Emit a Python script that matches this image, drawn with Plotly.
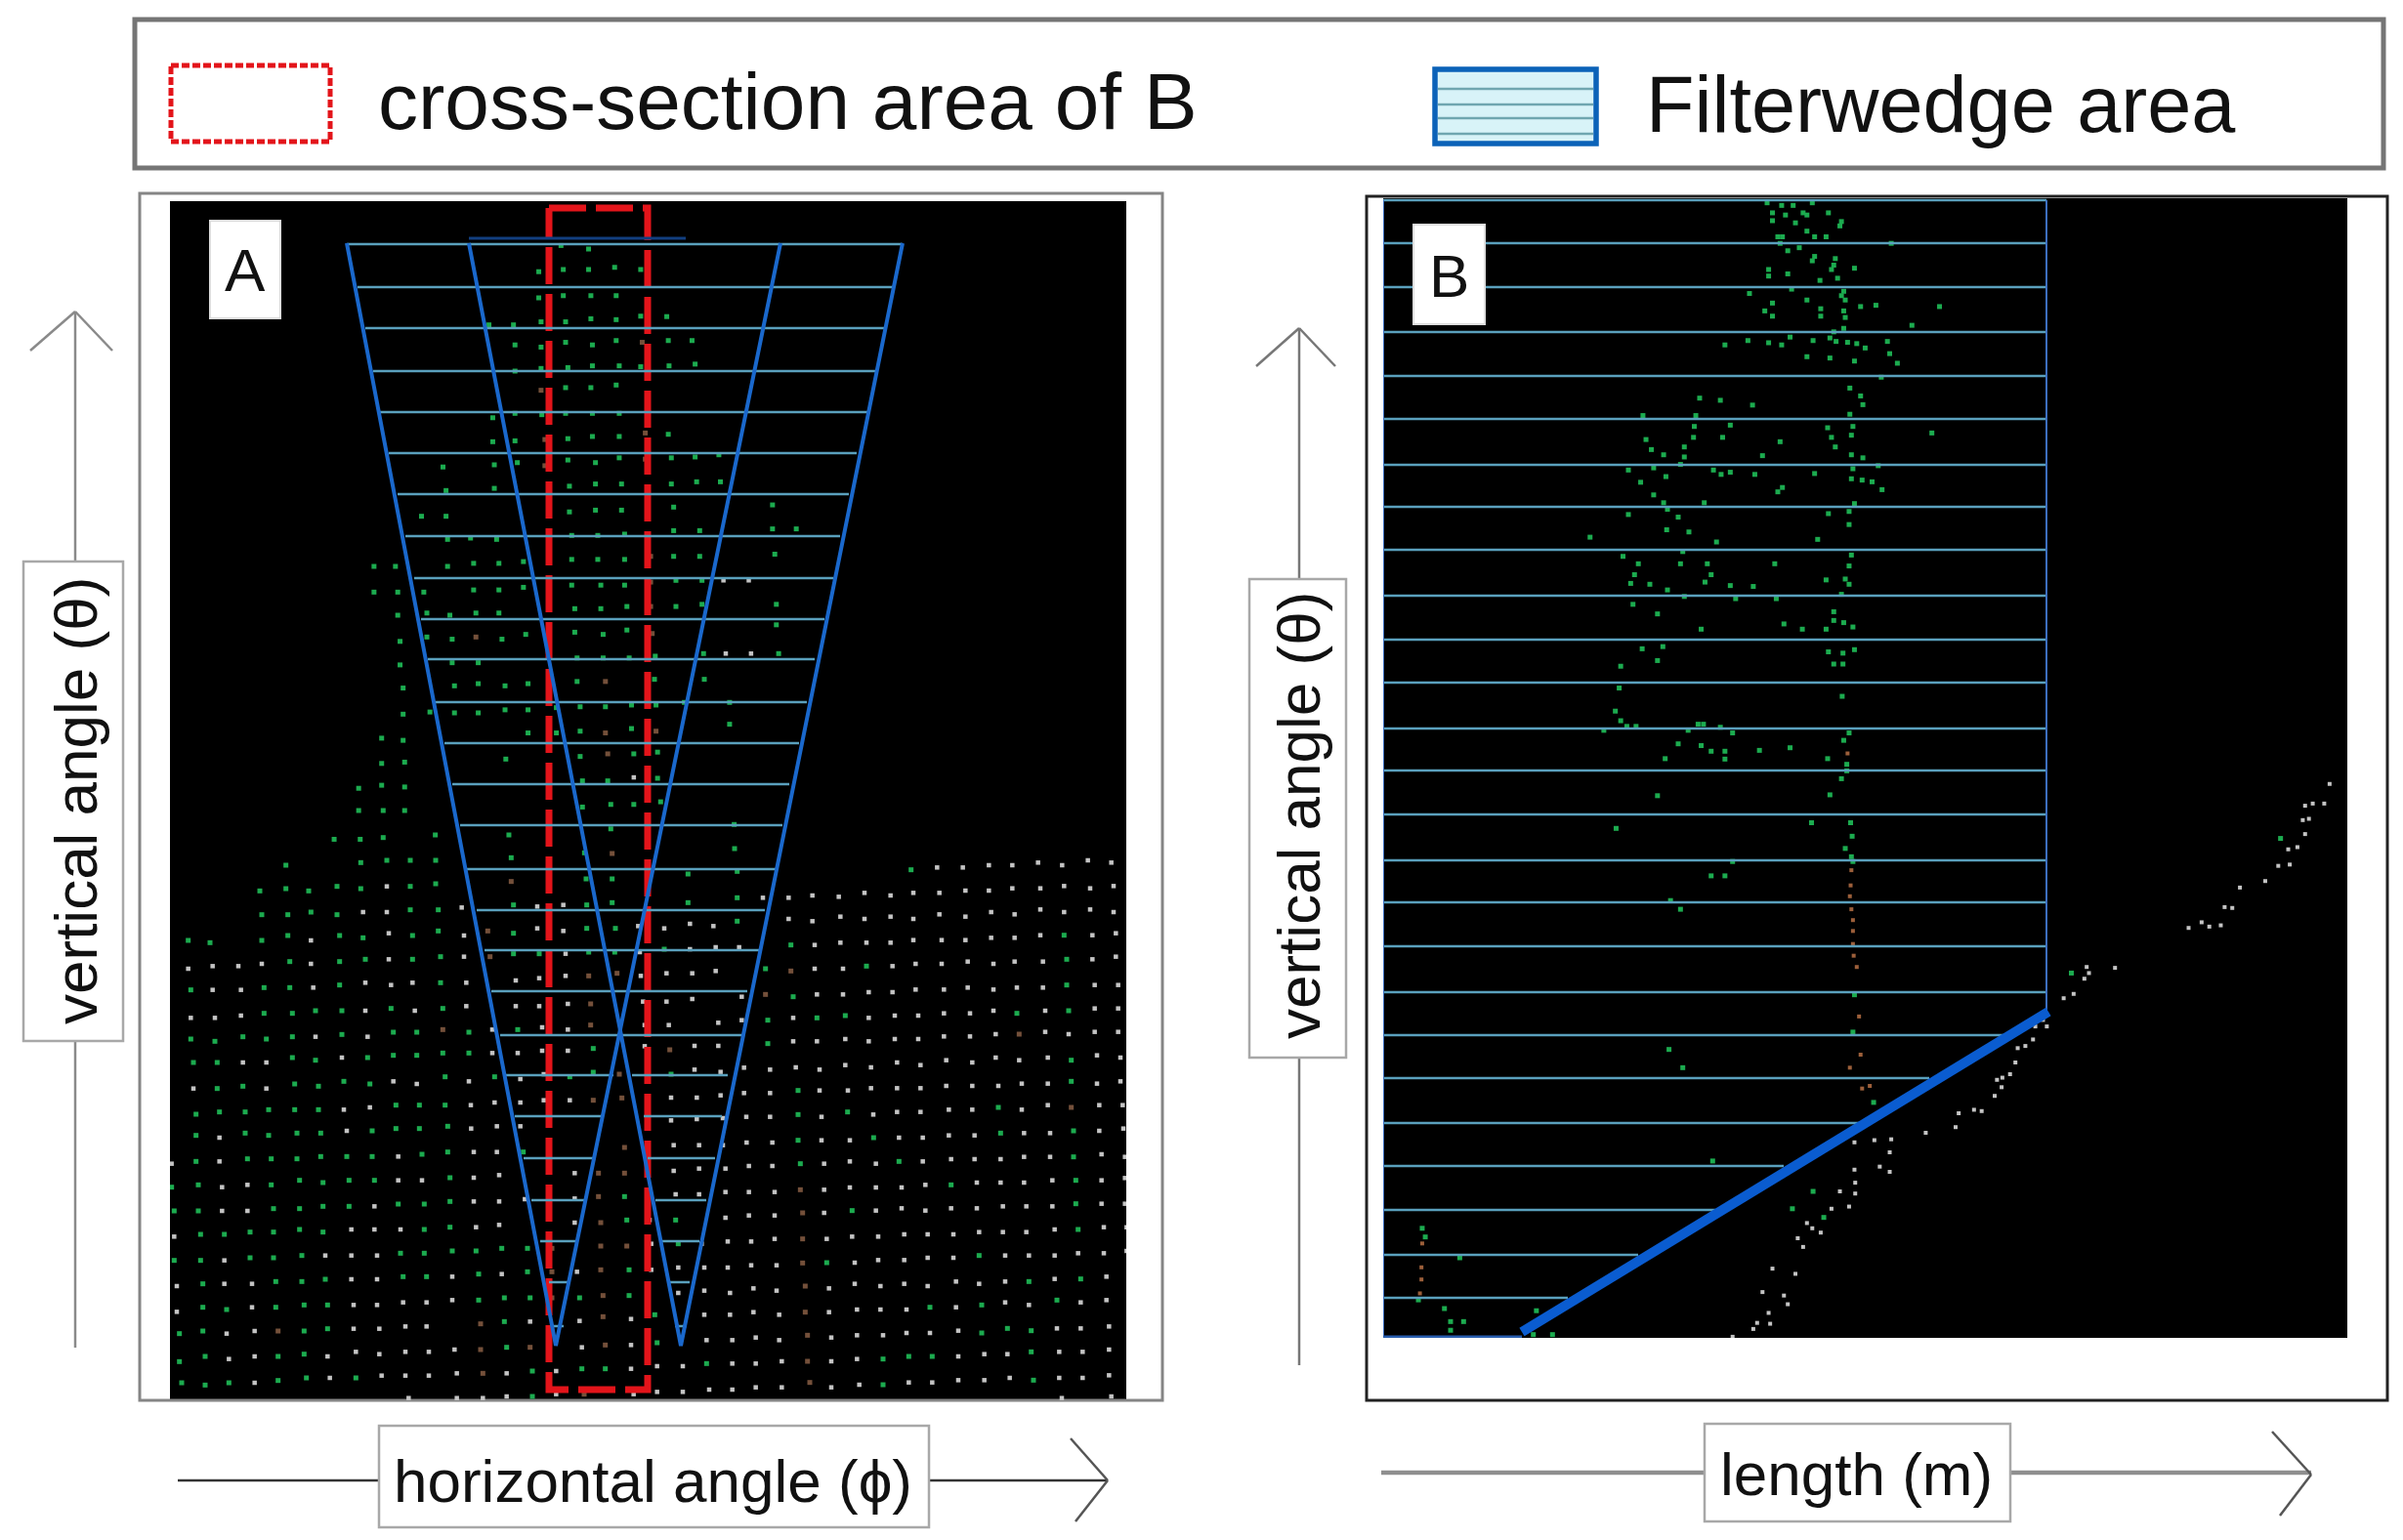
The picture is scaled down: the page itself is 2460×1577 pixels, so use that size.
import plotly.graph_objects as go

W, H = 2460, 1577

# all point readings are in zoomed-crop units, each block has its own crop origin and scale
# panel A, upper part (crop origin 0,180, scale 1.2746 / 2.24)
a_top_green = [(732,160),(768,168),(703,220),(735,215),(768,215),(802,210),(836,215),(703,280),(735,275),(771,275),(804,275),
    (638,342),(670,342),(706,335),(738,335),(771,328),(804,330),(836,322),(870,323),(672,388),(706,393),(738,382),(773,388),(804,378),(872,378),(903,378),
    (672,448),(706,442),(741,440),(773,436),(808,436),(836,438),(873,436),(907,432),(738,486),(771,486),(804,480),
    (643,555),(672,545),(707,548),(738,545),(773,545),(808,545),(643,610),(672,608),(741,603),(773,598),(808,598),(872,593),
    (578,668),(645,663),(675,658),(741,652),(777,658),(808,647),(876,647),(907,645),(938,640),
    (582,722),(645,717),(743,712),(777,707),(811,707),(876,707),(909,702),(940,702),
    (550,781),(582,781),(743,771),(777,767),(811,767),(879,760),(1008,755),
    (584,834),(614,831),(648,834),(746,825),(780,825),(815,822),(879,814),(913,814),(1008,810),(1039,810),
    (488,896),(516,896),(584,896),(618,889),(651,889),(683,885),(746,880),(780,880),(815,880),(879,873),(913,873),(1011,868),
    (488,955),(519,955),(553,955),(618,950),(651,950),(683,944),(746,939),(784,939),(815,939),(882,928),(916,928),
    (519,1008),(557,1003),(587,1008),(621,1003),(651,1003),(750,993),(784,993),(818,988),(882,988),(916,983),(1013,983),
    (522,1068),(557,1058),(590,1063),(655,1063),(686,1052),(750,1047),(787,1052),(818,1042),(1013,1030),
    (522,1122),(590,1117),(624,1117),(753,1106),(787,1106),(821,1106),(855,1102),(918,1096),(1016,1096),
    (526,1175),(593,1170),(624,1165),(659,1170),(689,1165),(753,1160),(854,1155),(919,1155),
    (526,1235),(561,1230),(593,1232),(624,1232),(659,1225),(689,1225),(726,1220),(757,1218),(790,1218),(824,1214),(856,1214),(893,1208),(952,1208),
    (498,1290),(526,1295),(689,1278),(726,1278),(757,1274),(824,1268),(952,1258),
    (498,1348),(528,1345),(660,1338),(757,1332),(827,1326),(858,1322),
    (468,1405),(498,1398),(528,1402),(760,1388),(793,1388),(858,1382),
    (468,1456),(500,1456),(528,1456),(760,1448),(797,1442),(827,1442),(862,1436),
    (436,1522),(470,1522),(500,1518),(568,1512),(664,1512),(797,1498),(958,1488)]
a_top_white = [(944,928),(977,928),(947,1096),(980,1096),(827,1380)]
a_top_brown = [(838,382),(706,492),(711,605),(842,590),(711,665),(842,650),(849,873),(849,932),(849,988),(621,1058),(851,1050),(790,1160),(790,1278),(856,1274),(793,1326)]

# panel A, lower left upper tile (crop origin 170,860, scale 3)
a_nw_green = [(368,78),(598,70),(678,63),(750,63),(828,63),(1060,55),(1285,40),
    (288,157),(368,150),(438,157),(525,143),(598,150),(750,143),(828,135),(1290,120),(1370,120),
    (294,230),(374,230),(445,222),(525,230),(750,215),(836,215),(1067,200),(1292,200),(1370,193),
    (68,309),(135,316),(294,309),(374,294),(533,294),(605,301),(757,294),(836,280),(1067,287),(1292,272),(1380,272),
    (380,374),(533,374),(612,367),(757,367),(843,359),(1067,350),(1146,350),(1298,345),(1378,345),
    (76,461),(301,454),(380,454),(533,446),(843,439),
    (301,533),(388,533),(459,525),(540,525),(691,518),(850,518),
    (76,612),(150,619),(236,605),(308,612),(388,605),(540,598),(698,591),(770,591),(930,591),(1080,583),
    (84,684),(157,684),(388,669),(459,677),(619,669),(698,662),(770,662),(850,655),(930,655),(1312,641),
    (157,764),(236,757),(395,750),(468,757),(546,742),(626,750),(857,728),(1009,728),(1240,728),(1312,714),
    (92,843),(164,836),(243,836),(315,829),(395,829),(468,829),(706,815),(778,815),(857,815)]
a_nw_white = [(908,208),(605,222),(678,222),(1140,205),(1220,200),(678,143),(445,309),(684,287),(915,294),(1140,272),(1220,280),(1450,265),
    (68,396),(143,388),(222,388),(294,381),(445,381),(684,367),(915,359),(1227,350),(1455,345),
    (143,461),(230,461),(452,454),(612,439),(691,446),(757,439),(922,439),(1074,432),(1146,425),(1227,418),(1458,418),
    (76,547),(150,547),(230,540),(612,525),(764,525),(922,511),(1074,511),(1146,511),(1234,504),(1465,497),
    (459,605),(619,605),(1002,583),(1155,576),(1234,583),(1470,569),
    (236,684),(308,684),(540,669),(1002,655),(1080,655),(1155,648),(1234,648),(1470,634),
    (84,764),(308,764),(698,742),(770,750),(930,742),(1088,735),(1160,720),
    (546,829),(626,822),(936,815),(1009,807),(1088,807),(1160,800),(1240,800)]
a_nw_brown = [(1370,42),(1060,128),(988,280),(995,359),(1298,418),(1385,410),(1304,504),(850,583),(1304,569),(1392,720),(1312,800),(1400,793)]

# panel A, lower left lower tile (crop origin 170,1150, scale 3)
a_sw_green = [(92,38),(243,31),(315,38),(402,31),(475,31),(633,24),(706,17),(778,17),(865,10),
    (92,118),(250,110),(323,110),(402,110),(475,103),(555,103),(633,103),(786,96),(865,89),(1097,89),
    (17,197),(99,190),(323,190),(410,176),(482,183),(562,176),(640,176),(872,168),
    (25,270),(99,270),(330,263),(410,263),(482,256),(562,256),(713,249),(793,249),(872,241),(1408,226),
    (106,342),(179,342),(258,335),(330,335),(410,327),(482,335),(793,327),(872,320),(1415,298),
    (25,422),(106,422),(258,414),(330,414),(417,407),(720,400),(793,400),(879,393),(952,393),(1031,385),(1110,385),
    (113,494),(337,487),(417,487),(489,480),(728,472),(800,472),(960,464),(1110,457),(1422,451),
    (113,566),(186,573),(337,566),(424,559),(496,559),(960,544),(1039,537),(1118,537),(1270,537),(1422,530),
    (41,647),(113,639),(424,639),(496,632),(1039,610),
    (41,733),(120,717),(344,717),(424,710),(1046,689),
    (48,798),(120,805),(193,798),(344,791),(431,783),(583,783),(1125,762),(1277,755),(1349,755),(1125,840)]
a_sw_white = [(164,45),(555,24),(937,17),(1016,10),(1088,10),(17,125),(164,118),(713,103),(945,89),(1016,89),
    (172,197),(250,190),(713,176),(786,176),(945,168),(1023,160),(1255,154),
    (172,270),(250,270),(640,256),(945,241),(1023,241),(1102,234),(1255,232),
    (25,349),(569,327),(640,327),(720,327),(952,320),(1023,313),(1255,306),(1485,298),
    (179,422),(489,407),(569,407),(648,407),(1490,371),
    (33,501),(179,494),(264,494),(569,480),(648,480),(879,472),(1031,464),(1262,457),(1490,451),
    (33,580),(264,566),(576,559),(648,559),(728,551),(800,551),(879,544),
    (186,647),(272,639),(576,632),(655,632),(735,625),(800,625),(1118,610),(1270,608),(1428,602),
    (193,725),(272,717),(496,717),(583,703),(655,710),(735,703),(807,703),(886,696),(1277,689),(1428,682),
    (272,798),(503,783),(662,776),(735,776),(807,776),(893,769),(1046,769),(1198,762),(1428,755),
    (745,845),(893,845),(973,845),(1046,840),(1198,833),(1436,833)]
a_sw_brown = [(1408,75),(1328,154),(1408,154),(1328,226),(1335,306),(1185,385),(1335,378),(1415,378),(1185,457),(1335,451),(1185,537),(1342,530),
    (344,639),(966,617),(1342,595),(966,696),(1118,689),(1349,682),(973,769),(1284,833)]

# panel A, lower right upper tile (crop origin 660,860, scale 3)
a_ne_green = [(276,27),(133,105),(284,97),(818,92),(133,193),(284,178),(284,250),(60,336),(449,323),(1288,293),
    (371,396),(681,388),(1296,367),(456,482),(1296,446),(378,554),(529,547),(616,540),(1143,533),(1302,525),
    (378,626),(81,720),(1310,677),(471,770),(1310,742),(10,858),(471,844),(623,836),(1086,822)]
a_ne_white = [(898,85),(977,85),(1057,78),(1129,78),(1208,70),(1282,78),(1361,63),(1433,70),
    (363,178),(442,178),(515,171),(596,175),(675,163),(755,171),(825,163),(905,163),(985,156),(1057,156),(1129,149),(1215,149),(1288,142),(1368,149),(1440,142),
    (60,272),(139,258),(211,265),(442,243),(515,250),(601,236),(675,243),(755,236),(825,243),(905,229),(985,236),(1064,222),(1136,229),(1215,214),(1288,222),(1368,214),(1440,222),
    (139,336),(218,330),(290,330),(522,323),(601,316),(681,316),(755,316),(825,308),(912,308),(985,308),(1064,301),(1136,301),(1215,293),(1375,293),(1447,287),
    (67,410),(146,410),(218,403),(522,396),(609,396),(761,388),(832,381),(912,381),(992,374),(1071,381),(1136,374),(1223,374),(1375,367),(1447,359),
    (67,497),(146,489),(298,482),(529,475),(609,475),(688,468),(761,468),(832,460),(919,460),(992,454),(1071,460),(1143,454),(1223,454),(1382,446),(1454,446),
    (74,569),(226,562),(298,554),(456,547),(688,547),(768,540),(840,540),(919,533),(999,533),(1071,525),(1230,525),(1382,518),(1454,518),
    (153,633),(226,633),(456,619),(529,619),(616,612),(688,619),(768,612),(840,612),(919,604),(999,604),(1078,597),(1230,590),(1302,597),(1382,590),(1454,590),
    (153,706),(233,713),(305,700),(385,706),(464,699),(537,706),(616,692),(695,699),(775,684),(847,692),(926,677),(1006,684),(1078,669),(1150,677),(1238,669),(1389,662),(1461,669),
    (81,792),(160,792),(233,785),(305,778),(385,778),(537,770),(624,770),(695,763),(775,763),(847,763),(926,756),(1006,756),(1086,756),(1158,749),(1238,749),(1389,749),(1461,742),
    (81,862),(160,858),(240,855),(312,851),(385,851),(543,851),(702,844),(775,836),(847,836),(934,829),(1006,829),(1158,829),(1238,815),(1396,815),(1468,815)]
a_ne_brown = [(449,403),(371,475),(77,645),(1150,597),(1310,822)]

# panel A, lower right lower tile (crop origin 660,1150, scale 3)
a_se_green = [(471,53),(703,45),(1093,31),(1317,24),(478,125),(781,118),(1317,104),(941,190),(1324,176),(95,298),(637,269),(1324,248),
    (103,371),(1331,327),(559,429),(1027,407),(1180,487),(1339,479),(31,589),(876,566),(1035,559),(1266,544),
    (38,675),(1035,645),(1114,631),(1187,638),(190,739),(732,725),(811,717),(883,717),(1187,703),(732,804),(1194,790)]
a_se_white = [(89,68),(167,68),(240,68),(313,60),(392,60),(543,53),(630,53),(781,45),(854,45),(934,38),(1013,38),(1165,31),(1245,31),(1396,24),(1470,17),
    (89,147),(167,140),(248,140),(320,132),(392,132),(551,125),(630,118),(710,125),(854,118),(941,111),(1013,111),(1093,111),(1165,104),(1245,104),(1403,96),(1475,104),
    (95,219),(167,219),(248,212),(320,212),(399,212),(551,205),(630,198),(710,198),(789,198),(862,190),(1020,183),(1093,183),(1165,183),(1252,176),(1403,176),(1475,169),
    (248,291),(320,284),(399,284),(551,276),(710,269),(789,262),(862,269),(941,262),(1020,262),(1100,256),(1172,256),(1252,256),(1403,248),(1475,248),
    (175,371),(255,364),(327,364),(399,356),(559,356),(637,349),(717,349),(797,342),(869,342),(948,342),(1027,335),(1100,335),(1172,335),(1259,327),(1410,320),(1480,320),
    (103,444),(183,444),(255,444),(327,437),(405,437),(645,429),(717,421),(797,421),(869,414),(948,414),(1107,407),(1180,407),(1259,407),(1331,400),(1410,400),(1480,393),
    (103,522),(183,515),(262,522),(334,508),(405,515),(566,508),(645,494),(724,501),(797,494),(869,501),(956,487),(1027,494),(1107,487),(1259,479),(1418,472),
    (183,589),(262,589),(334,581),(413,589),(566,581),(652,573),(724,573),(804,573),(956,566),(1107,551),(1180,559),(1339,551),(1418,544),
    (190,667),(269,667),(341,659),(413,667),(573,659),(652,652),(732,652),(804,645),(876,645),(963,638),(1266,631),(1339,631),(1426,625),
    (38,747),(117,747),(269,739),(341,739),(421,732),(573,732),(652,725),(963,717),(1043,710),(1114,710),(1273,703),(1345,703),(1426,696),
    (38,826),(117,826),(198,819),(269,819),(341,812),(421,812),(573,812),(659,804),(811,797),(883,797),(963,790),(1043,790),(1121,783),(1273,783),(1345,783),(1426,775),
    (1281,845),(1433,840)]
a_se_brown = [(478,205),(485,276),(485,356),(485,430),(493,501),(493,581),(500,652),(500,732),(507,797)]

# panel B, upper crop (origin 1230,180, scale 1.2746 / 2.24)
b_top_green = [(738,62),(745,85),(757,68),(762,90),(772,68),(785,85),(790,90),(797,62),(818,85),(835,105),(833,115),(745,103),(775,108),(790,127),(800,140),(815,140),
    (752,140),(758,140),(755,155),(765,172),(780,165),(800,185),(797,195),(827,190),(825,205),(852,212),(740,215),(740,230),(765,225),(822,215),(830,235),(807,240),
    (838,265),(835,275),(840,285),(715,270),(770,260),(790,285),(745,292),(735,310),(745,322),(808,305),(808,322),(838,310),(840,325),(860,300),(880,297),(963,300),
    (927,343),(838,350),(825,358),(820,372),(828,380),(768,370),(713,378),(740,383),(757,388),(683,388),(798,378),(843,382),(855,385),(866,395),(895,380),(898,408),
    (908,430),(790,415),(820,418),(852,425),(887,462),(900,155),
    (846,487),(860,505),(863,525),(650,510),(677,515),(719,526),(576,550),(645,550),(846,547),(643,575),(690,572),(817,578),(850,575),(642,600),(680,600),(953,590),
    (580,605),(822,600),(848,595),(755,610),(630,622),(827,622),(587,628),(603,640),(630,645),(732,642),(863,647),(848,640),(557,675),(590,670),(625,662),(668,675),
    (678,685),(690,680),(722,685),(800,683),(850,672),(883,665),(606,690),(573,703),(848,695),(862,698),(875,702),(888,720),(758,715),(752,725),(590,732),(603,750),
    (608,765),(656,750),(852,752),(557,777),(622,783),(818,775),(845,770),(845,800),(607,812),(636,817),(507,829),(804,834),(672,840),
    (628,862),(550,873),(848,870),(570,890),(625,890),(660,890),(748,890),(845,895),(665,915),(565,915),(560,935),(840,925),(815,927),(845,937),(585,937),(657,932),
    (690,940),(720,942),(608,950),(630,965),(697,970),(750,970),(835,960),(563,983),(595,1005),(825,1000),(825,1020),(838,1025),(850,1035),(760,1028),(784,1040),
    (815,1040),(652,1040),(602,1080),(575,1085),(852,1087),(595,1112),(818,1092),(837,1095),(825,1120),(837,1120),(547,1125),(545,1175),(836,1194),(540,1228),(547,1250),
    (525,1272),(555,1263),(567,1263),(635,1272),(648,1258),(655,1258),(677,1265),(693,1278),(845,1278),(838,1295),(622,1303),(652,1307),(665,1320),(683,1320),(683,1338),
    (728,1318),(768,1312),(605,1337),(817,1337),(842,1350),(842,1365),(835,1383),(595,1422),(820,1420),(796,1484),(847,1484),(541,1497),(849,1515),(840,1543),(848,1562),(1408,1520)]
b_top_white = [(1472,1395),(1440,1445),(1450,1440),(1465,1440),(1437,1478),(1445,1475),(1440,1510),(1418,1545),(1430,1540)]
b_top_brown = [(843,1325)]

# panel B, lower crop (origin 1230,880, scale 1.2746 / 2.25)
b_low_green = [(693,5),(850,5),(665,38),(683,38),(612,95),(625,115),(610,438),(628,480),(852,312),(850,398),(667,695),(798,765),(771,805),(812,825),(877,560),
    (288,850),(292,870),(337,918),(283,1015),(317,1035),(325,1065),(325,1085),(342,1065),(437,1040),(433,1095),(458,1095),(1135,262)]
b_low_brown = [(848,25),(847,60),(846,85),(848,115),(850,140),(850,165),(850,195),(851,222),(855,248),(858,362),(860,450),(846,480),(862,528),(872,522),
    (288,885),(287,940),(287,968),(285,1000)]
b_low_white = [(1420,12),(1405,15),(1388,50),(1355,65),(1345,112),(1335,110),(1305,145),(1330,152),(1315,155),(1288,158),(1192,250),(1155,248),(1158,262),(1152,275),
    (1138,310),(1125,320),(1103,385),(1088,385),(1098,370),(1085,415),(1075,430),(1065,435),(1062,468),(1055,495),(1045,503),(1038,508),(1044,525),(1035,545),(1018,580),
    (1008,577),(988,585),(984,617),(945,630),(900,645),(878,647),(852,652),(898,675),(885,708),(898,720),(852,715),(853,745),(853,770),(833,765),(845,800),(822,805),
    (790,838),(797,850),(808,860),(778,873),(785,893),(745,943),(775,955),(732,997),(760,1005),(765,1025),(740,1045),(742,1070),(725,1068),(720,1082),(693,1100)]

# filter wedges in panel A
wedge_left_phi = [355, 569, 799]
wedge_right_phi = [480, 697, 924]
wedge_theta = [249, 1378, 249]
rung_theta_a = [250, 294, 336, 380, 422, 464, 506, 549, 592, 634, 675, 719, 761, 803, 845, 890, 932, 973, 1015, 1060]
rung_start_a = [355, 366, 374, 382, 389, 398, 407, 415, 424, 431, 438, 446, 455, 463, 471, 477, 488, 496, 503, 512]
rung_end_a = [924, 914, 906, 896, 888, 877, 869, 860, 853, 844, 834, 826, 818, 808, 801, 794, 783, 777, 765, 759]
split_theta_a = [1101, 1143, 1186, 1229, 1271, 1313, 1358]
split_left_a = [(518, 628), (527, 617), (536, 610), (544, 600), (553, 591), (562, 582), (565, 577)]
split_right_a = [(647, 745), (659, 739), (663, 732), (671, 723), (676, 716), (686, 706), (691, 703)]
cross_section_phi = [562, 663, 663, 562, 562]
cross_section_theta = [213, 213, 1423, 1423, 213]

# rungs in panel B
rung_y_b = [205, 249, 294, 340, 385, 429, 476, 519, 563, 610, 655, 699, 746, 789, 834, 881, 924, 969, 1016, 1060, 1104, 1150, 1194, 1239, 1285, 1329]
rung_end_b = [2095, 2095, 2095, 2095, 2095, 2095, 2095, 2095, 2095, 2095, 2095, 2095, 2095, 2095, 2095, 2095, 2095, 2095, 2095, 2054, 1975, 1905, 1826, 1756, 1677, 1605]
ground_length = [1558, 2097]
ground_y = [1364, 1036]

GREEN, WHITE, BROWN = "#1cab4f", "#c4c4c4", "#74503a"
RUNG = "#5aa0bd"
BLUE = "#1a68cc"
FX = 1.2746


def crop_xy(pairs, x0, y0, fx, fy):
    return [x0 + p[0] / fx for p in pairs], [y0 + p[1] / fy for p in pairs]


def px(x, y):
    return x / W, 1 - y / H


def dots(pairs, x0, y0, fx, fy, color, axis, size=5):
    xs, ys = crop_xy(pairs, x0, y0, fx, fy)
    return go.Scatter(x=xs, y=ys, mode="markers", xaxis="x" + axis, yaxis="y" + axis, showlegend=False,
                      marker=dict(symbol="square", size=size, color=color, line=dict(width=0)))


def line(xs, ys, axis, color, width, dash="solid"):
    return go.Scatter(x=xs, y=ys, mode="lines", xaxis="x" + axis, yaxis="y" + axis, showlegend=False,
                      line=dict(color=color, width=width, dash=dash))


fig = go.Figure()

# panel A dots
tiles_a = [
    (a_top_green, a_top_white, a_top_brown, 0, 180, FX, 2.24),
    (a_nw_green, a_nw_white, a_nw_brown, 170, 860, 3, 3),
    (a_sw_green, a_sw_white, a_sw_brown, 170, 1150, 3, 3),
    (a_ne_green, a_ne_white, a_ne_brown, 660, 860, 3, 3),
    (a_se_green, a_se_white, a_se_brown, 660, 1150, 3, 3),
]
for green, white, brown, x0, y0, fx, fy in tiles_a:
    fig.add_trace(dots(brown, x0, y0, fx, fy, BROWN, ""))
    fig.add_trace(dots(green, x0, y0, fx, fy, GREEN, ""))
    fig.add_trace(dots(white, x0, y0, fx, fy, WHITE, "", 4.5))

# red cross-section, then the wedges on top
fig.add_trace(line(cross_section_phi, cross_section_theta, "", "#e3141a", 7, "38px,10px"))

rung_x, rung_y = [], []
for y, a, b in zip(rung_theta_a, rung_start_a, rung_end_a):
    rung_x += [a, b, None]
    rung_y += [y, y, None]
for y, l, r in zip(split_theta_a, split_left_a, split_right_a):
    rung_x += [l[0], l[1], None, r[0], r[1], None]
    rung_y += [y, y, None, y, y, None]
fig.add_trace(line(rung_x, rung_y, "", RUNG, 2.5))
fig.add_trace(line(wedge_left_phi, wedge_theta, "", BLUE, 4))
fig.add_trace(line(wedge_right_phi, wedge_theta, "", BLUE, 4))
fig.add_trace(line([480, 702], [244, 244], "", "#123f80", 3))

# panel B
tiles_b = [
    (b_top_green, b_top_white, b_top_brown, 1230, 180, FX, 2.24),
    (b_low_green, b_low_white, b_low_brown, 1230, 880, FX, 2.25),
]
for green, white, brown, x0, y0, fx, fy in tiles_b:
    fig.add_trace(dots(brown, x0, y0, fx, fy, "#9c5f3a", "2", 4))
    fig.add_trace(dots(green, x0, y0, fx, fy, GREEN, "2", 5))
    fig.add_trace(dots(white, x0, y0, fx, fy, WHITE, "2", 4))

rung_x, rung_y = [], []
for y, e in zip(rung_y_b, rung_end_b):
    rung_x += [1416, e, None]
    rung_y += [y, y, None]
fig.add_trace(line(rung_x, rung_y, "2", RUNG, 2.5))
fig.add_trace(line([1416, 1416], [205, 1369], "2", "#3d6fc0", 2))
fig.add_trace(line([2095, 2095], [205, 1036], "2", "#3d6fc0", 2))
fig.add_trace(line([1416, 1558], [1369, 1369], "2", "#2a5fb0", 3))
fig.add_trace(line(ground_length, ground_y, "2", "#0a5cd0", 10))

shapes = []


def box(x0, y0, x1, y1, color="#a8a8a8", width=2.5, fill="white", dash="solid", layer="above"):
    ax, ay = px(x0, y0)
    bx, by = px(x1, y1)
    shapes.append(dict(type="rect", xref="paper", yref="paper", x0=ax, y0=ay, x1=bx, y1=by, layer=layer,
                       line=dict(color=color, width=width, dash=dash), fillcolor=fill))


def seg(x0, y0, x1, y1, color="#8a8a8a", width=2.5):
    ax, ay = px(x0, y0)
    bx, by = px(x1, y1)
    shapes.append(dict(type="line", xref="paper", yref="paper", x0=ax, y0=ay, x1=bx, y1=by,
                       line=dict(color=color, width=width)))


# legend
box(138, 20, 2440, 172, color="#757575", width=5, fill="white")
box(175, 67, 338, 145, color="#e3141a", width=5, dash="8px,3px")
box(1469, 71, 1634, 147, color="#0b62b8", width=5.5, fill="#d8f3f8")
for y in [91, 107, 121, 137]:
    seg(1472, y, 1631, y, color="#6fa6b0", width=2.5)

# panel frames around the black plot areas
box(143, 198, 1190, 1434, color="#858585", width=3, fill="rgba(0,0,0,0)", layer="below")
box(1399, 201, 2444, 1434, color="#222222", width=3, fill="rgba(0,0,0,0)", layer="below")

# panel letters
box(215, 226, 287, 326, color="#dddddd", width=2)
box(1447, 230, 1520, 332, color="#dddddd", width=2)

# axis arrows
seg(77, 319, 77, 1380)
seg(31, 359, 77, 319)
seg(115, 359, 77, 319)
seg(182, 1516, 1134, 1516, color="#333333")
seg(1096, 1473, 1134, 1516, color="#555555")
seg(1101, 1558, 1134, 1516, color="#555555")
seg(1330, 336, 1330, 1398, color="#777777")
seg(1286, 375, 1330, 336, color="#777777")
seg(1367, 375, 1330, 336, color="#777777")
seg(1414, 1508, 2366, 1508, color="#8f8f8f", width=4.5)
seg(2326, 1466, 2366, 1510, color="#555555")
seg(2334, 1552, 2366, 1510, color="#555555")

# axis label boxes go over the arrows
box(24, 575, 126, 1066)
box(388, 1460, 951, 1564)
box(1279, 593, 1378, 1083)
box(1745, 1458, 2058, 1558)


def label(text, x, y, size, angle=0):
    ax, ay = px(x, y)
    return dict(text=text, x=ax, y=ay, xref="paper", yref="paper", showarrow=False, textangle=angle,
                xanchor="center", yanchor="middle", font=dict(family="Liberation Sans", size=size, color="#111111"))


annotations = [
    label("cross-section area of B", 806, 103, 82),
    label("Filterwedge area", 1987, 107, 81),
    label("A", 251, 277, 62),
    label("B", 1483, 282, 62),
    label("vertical angle (θ)", 77, 820, 62, -90),
    label("vertical angle (θ)", 1329, 835, 62, -90),
    label("horizontal angle (ϕ)", 668, 1516, 62),
    label("length (m)", 1900, 1509, 62),
]

fig.update_layout(
    width=W, height=H, margin=dict(l=0, r=0, t=0, b=0), paper_bgcolor="white", plot_bgcolor="black",
    shapes=shapes, annotations=annotations, showlegend=False,
    xaxis=dict(domain=[174 / W, 1153 / W], range=[174, 1153], visible=False),
    yaxis=dict(domain=[1 - 1434 / H, 1 - 206 / H], range=[1434, 206], visible=False),
    xaxis2=dict(domain=[1416 / W, 2403 / W], range=[1416, 2403], visible=False, anchor="y2"),
    yaxis2=dict(domain=[1 - 1370 / H, 1 - 203 / H], range=[1370, 203], visible=False, anchor="x2"),
)

# no page margin or toolbar, the figure fills the window
fig.write_html("out.html", config=dict(displayModeBar=False), post_script="document.body.style.margin='0'")
